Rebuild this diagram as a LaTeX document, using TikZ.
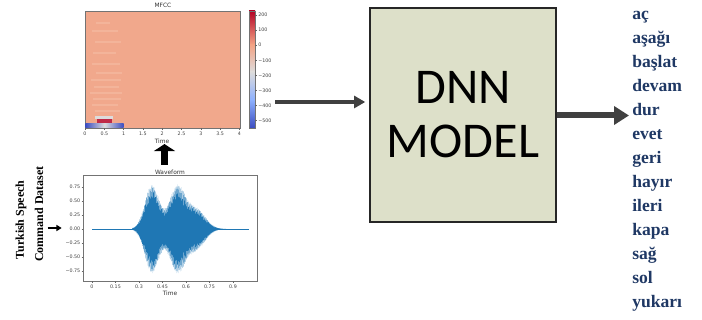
\documentclass[tikz,border=0pt]{standalone}
\usepackage{fontspec}
\setmainfont{Liberation Serif}
\newfontfamily\modelfont{Carlito}
\newfontfamily\plotfont{DejaVu Sans}
\usetikzlibrary{arrows.meta, positioning, calc}
\definecolor{arrowgray}{HTML}{404040}
\definecolor{modelfill}{HTML}{DDE0C9}
\definecolor{wordblue}{HTML}{1F3864}
\definecolor{wavblue}{HTML}{1F77B4}
\definecolor{heatbg}{HTML}{F1A88C}
\definecolor{heatlight}{HTML}{F6C3AD}
\definecolor{cwred}{HTML}{B40426}
\definecolor{cwsalmon}{HTML}{F3A385}
\definecolor{cwwhite}{HTML}{DDDCDC}
\definecolor{cwlblue}{HTML}{8DB0FE}
\definecolor{cwblue}{HTML}{3B4CC0}

\begin{document}
\begin{tikzpicture}[
    x=0.025cm, y=-0.025cm,
    declare function={
        wenv(\t)=44*exp(max(-9,-((\t-152)/10)*((\t-152)/10)))
                +42*exp(max(-9,-((\t-177)/11)*((\t-177)/11)))
                +20*exp(max(-9,-((\t-196)/13)*((\t-196)/13)));
    },
    plotframe/.style={draw=black!55, line width=0.4pt, inner sep=0pt},
    tickline/.style={black!60, line width=0.3pt},
    ticklab/.style={font=\plotfont\fontsize{3.4}{4}\selectfont, text=black!75, inner sep=0.4pt},
    plottitle/.style={font=\plotfont\fontsize{4.2}{5}\selectfont, text=black!80, inner sep=0pt},
    modelbox/.style={draw=black!85, line width=1pt, fill=modelfill, minimum width=4.65cm, minimum height=5.35cm, align=center, inner sep=0pt, font=\modelfont\fontsize{35.6}{38.4}\selectfont},
    word/.style={font=\bfseries\fontsize{12.5}{14}\selectfont, text=wordblue, inner sep=0pt, anchor=base west},
    vlabel/.style={rotate=90, font=\bfseries\fontsize{8.5}{10}\selectfont, inner sep=0pt},
    midarrow/.style={arrowgray, line width=0.085cm, -{Triangle[length=0.28cm, width=0.3cm]}},
    outarrow/.style={arrowgray, line width=0.15cm, -{Triangle[length=0.375cm, width=0.45cm]}},
    fatarrow/.style={black, line width=0.175cm, -{Triangle[length=0.175cm, width=0.525cm]}},
    labelarrow/.style={black, line width=0.05cm, -{Triangle[length=0.13cm, width=0.15cm]}},
]
    \useasboundingbox (0,0) rectangle (702,320);

    % MFCC plot
    \node[plotframe, fill=heatbg, minimum width=3.875cm, minimum height=2.925cm] (mfcc) at (162.5,69.5) {};
    \foreach \yy/\xa/\xb in {22/96/110, 30/92/118, 41/95/121, 52/93/116, 63/92/120, 72/96/122, 79/91/121, 86/94/119, 92/90/122, 98/93/121, 104/92/118, 110/95/120}
        \fill[heatlight, opacity=0.45] (\xa,\yy) rectangle (\xb,\yy+1.8);
    \fill[cwwhite] (95,116.5) rectangle (113,119.5);
    \fill[cwred!85] (97,119.5) rectangle (112,123.5);
    \shade[left color=cwblue, right color=cwblue, middle color=cwwhite] (85.3,124) rectangle (123.6,127.7);
    \shade[top color=cwred, bottom color=cwsalmon] (249,11) rectangle (255,45);
    \shade[top color=cwsalmon, bottom color=cwwhite] (249,45) rectangle (255,72);
    \shade[top color=cwwhite, bottom color=cwlblue] (249,72) rectangle (255,100);
    \shade[top color=cwlblue, bottom color=cwblue] (249,100) rectangle (255,128);
    \node[plotframe, minimum width=0.15cm, minimum height=2.925cm] (cbar) at (252,69.5) {};
    \foreach \lab [count=\k from 0] in {0,0.5,1,1.5,2,2.5,3,3.5,4} {
        \draw[tickline] ({85+19.3*\k},128) -- ++(0,2);
        \node[ticklab, anchor=north] (mx\k) at ({85+19.3*\k},131) {\lab};
    }
    \foreach \lab [count=\k from 0] in {200,100,0,−100,−200,−300,−400,−500} {
        \draw[tickline] (255,{15+15.1*\k}) -- ++(2,0);
        \node[ticklab, anchor=west] (cb\k) at (257.5,{15+15.1*\k}) {\lab};
    }
    \node[plottitle] (mfcctitle) at (163,5) {MFCC};
    \node[plottitle] (mfcctime) at (162,141.5) {Time};

    % waveform plot
    \node[plotframe, minimum width=4.35cm, minimum height=2.65cm] (wave) at (170,228) {};
    \draw[wavblue, line width=0.35pt] (92,229) -- (249,229);
    \fill[wavblue] plot[domain=132:226, samples=300] (\x,{229-wenv(\x)*(0.45+0.55*abs(sin(157*(\x-130))))})
        -- plot[domain=226:132, samples=300] (\x,{229+wenv(\x)*(0.45+0.55*abs(sin(163*(\x-130)+40)))}) -- cycle;
    \foreach \lab [count=\k from 0] in {0.75,0.50,0.25,0.00,−0.25,−0.50,−0.75} {
        \draw[tickline] (81.5,{187+14*\k}) -- (83,{187+14*\k});
        \node[ticklab, anchor=east] (wy\k) at (81,{187+14*\k}) {\lab};
    }
    \foreach \lab [count=\k from 0] in {0,0.15,0.3,0.45,0.6,0.75,0.9} {
        \draw[tickline] ({92+23.5*\k},281) -- ++(0,2);
        \node[ticklab, anchor=north] (wx\k) at ({92+23.5*\k},284) {\lab};
    }
    \node[plottitle] (wavtitle) at (170,172) {Waveform};
    \node[plottitle] (wavtime) at (170,293) {Time};

    \node[vlabel] (speech) at (21,220) {Turkish Speech};
    \node[vlabel] (dataset) at (39,214) {Command Dataset};

    \node[modelbox] (dnn) at (463,115) {DNN\\MODEL};

    \foreach \w [count=\i from 0] in {aç, aşağı, başlat, devam, dur, evet, geri, hayır, ileri, kapa, sağ, sol, yukarı}
        \node[word] (w\i) at (632,{19.5+24*\i}) {\w};

    \coordinate (upfoot) at (164.5,165);
    \coordinate (mfccout) at (275,102);
    \draw[fatarrow] (upfoot) -- (upfoot |- mfcctime.south);
    \draw[labelarrow, shorten <=3pt, shorten >=0.525cm] (dataset.south |- wave.west) -- (wave.west);
    \draw[midarrow, shorten >=0.1cm] (mfccout) -- (mfccout -| dnn.west);
    \draw[outarrow, shorten >=0.075cm] (dnn.east |- w4.base) -- (w4.base west);
\end{tikzpicture}
\end{document}
